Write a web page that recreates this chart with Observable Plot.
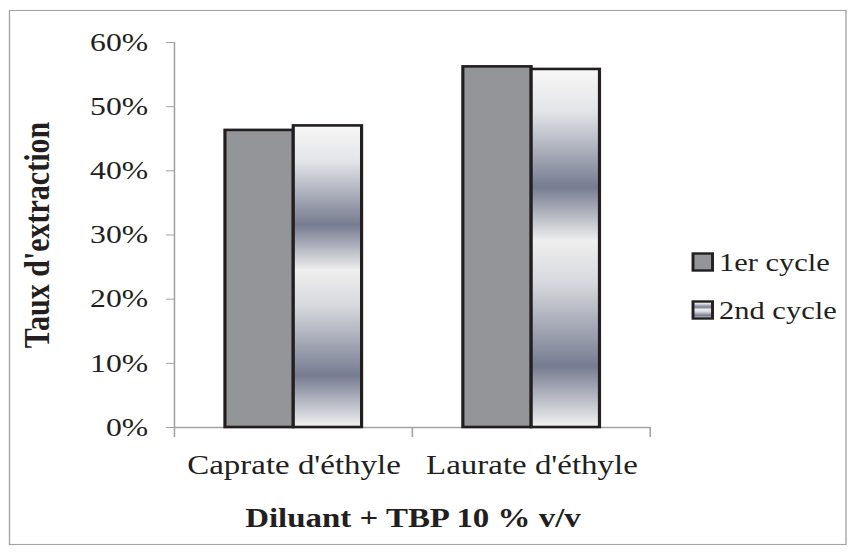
<!DOCTYPE html>
<html><head><meta charset="utf-8">
<script src="https://cdn.jsdelivr.net/npm/d3@7"></script>
<script src="https://cdn.jsdelivr.net/npm/@observablehq/plot@0.6"></script>
<style>
html,body{margin:0;padding:0;background:#fff;}
#chart{position:relative;width:856px;height:553px;overflow:hidden;}
</style></head><body><div id="chart"></div>
<script>
// ---- data ----
const categories = ["Caprate d'éthyle", "Laurate d'éthyle"];
const series = ["1er cycle", "2nd cycle"];
const cycle1 = [0.463, 0.562];
const cycle2 = [0.470, 0.558];
const yTicks = [0, 0.1, 0.2, 0.3, 0.4, 0.5, 0.6];
const yLabel = "Taux d'extraction";
const xLabel = "Diluant + TBP 10 % v/v";

const data = categories.flatMap((c, i) => [
  {category: c, cycle: series[0], value: cycle1[i]},
  {category: c, cycle: series[1], value: cycle2[i]}
]);

// the original chart is horizontally stretched; draw in local units and stretch
const SX = 1.22;
const W = 856, H = 553;
const W0 = W / SX;
const FONT = "'Liberation Serif', 'Times New Roman', serif";
const DARK = "#231f20";
const AXIS = "#a3a3a3";

const plot = Plot.plot({
  width: W0, height: H,
  marginLeft: 174 / SX, marginRight: (W - 650) / SX,
  marginTop: 42, marginBottom: H - 427,
  style: {fontFamily: FONT, fontSize: "26px", color: DARK, background: "#fff"},
  fx: {domain: categories, padding: 0},
  x: {domain: series, paddingInner: 0, paddingOuter: 0.725, axis: null},
  y: {domain: [0, 0.6]},
  color: {domain: series, range: ["#939598", "url(#grad2)"]},
  marks: [
    Plot.ruleY([0], {stroke: AXIS, strokeWidth: 1.3}),
    Plot.barY(data, {fx: "category", x: "cycle", y: "value", fill: "cycle", stroke: DARK, strokeWidth: 2.6}),
    Plot.axisY({ticks: yTicks, tickFormat: d3.format(".0%"), tickSize: 7, tickPadding: 15,
      stroke: AXIS, fill: DARK, fontSize: 26, label: null}),
    Plot.axisY({ticks: [], label: yLabel, labelAnchor: "center", labelArrow: false,
      labelOffset: 125, fontSize: 30, fontWeight: "bold", fill: DARK}),
    Plot.axisFx({anchor: "bottom", tickSize: 0, tickPadding: 27, fontSize: 27, fill: DARK, label: null}),
    Plot.axisFx({anchor: "bottom", ticks: [], label: xLabel, labelAnchor: "center", labelArrow: false,
      labelOffset: 99, fontSize: 27, fontWeight: "bold", fill: DARK})
  ]
});

const svg = d3.select(plot);
// gradient for the 2nd cycle
const defs = svg.insert("defs", ":first-child");
const g = defs.append("linearGradient").attr("id", "grad2")
  .attr("x1", 0).attr("y1", 0).attr("x2", 0).attr("y2", 1);
[[0, "#f8f8f8"], [0.12, "#e3e4e7"], [0.33, "#767c91"], [0.48, "#efefef"],
 [0.6, "#d7d8dd"], [0.83, "#767c91"], [1, "#f3f3f3"]]
  .forEach(([o, c]) => g.append("stop").attr("offset", o).attr("stop-color", c));

// axis lines from Plot's scales
const fx = plot.scale("fx"), y = plot.scale("y");
const y0 = y.apply(0), yTop = y.apply(0.6);
const left = fx.apply(categories[0]);
const extra = svg.append("g").attr("stroke", AXIS).attr("stroke-width", 1.3);
extra.append("line").attr("x1", left).attr("x2", left).attr("y1", yTop).attr("y2", y0);
const bounds = [left, ...categories.map(c => fx.apply(c) + fx.bandwidth)];
bounds.forEach(b => extra.append("line").attr("x1", b).attr("x2", b).attr("y1", y0).attr("y2", y0 + 10));

// legend
const leg = svg.append("g").attr("font-family", FONT).attr("font-size", 25).attr("fill", DARK)
  .attr("text-anchor", "start");
const legX = 693 / SX, legY = [262, 310];
series.forEach((s, i) => {
  leg.append("rect").attr("x", legX).attr("y", legY[i] - 8.5).attr("width", 16).attr("height", 17)
    .attr("fill", i === 0 ? "#939598" : "url(#grad2)").attr("stroke", DARK).attr("stroke-width", 2.4);
  leg.append("text").attr("x", 719 / SX).attr("y", legY[i]).attr("dy", "0.35em").text(s);
});

// outer border
svg.append("rect").attr("x", 9.5 / SX).attr("y", 10.5).attr("width", (846 - 9.5) / SX).attr("height", 534)
  .attr("fill", "none").attr("stroke", AXIS).attr("stroke-width", 1.1);

plot.setAttribute("width", W);
plot.setAttribute("height", H);
plot.setAttribute("viewBox", `0 0 ${W0} ${H}`);
plot.setAttribute("preserveAspectRatio", "none");
plot.style.maxWidth = "none";
plot.style.height = H + "px";
plot.style.width = W + "px";
document.getElementById("chart").appendChild(plot);
</script>
</body></html>
